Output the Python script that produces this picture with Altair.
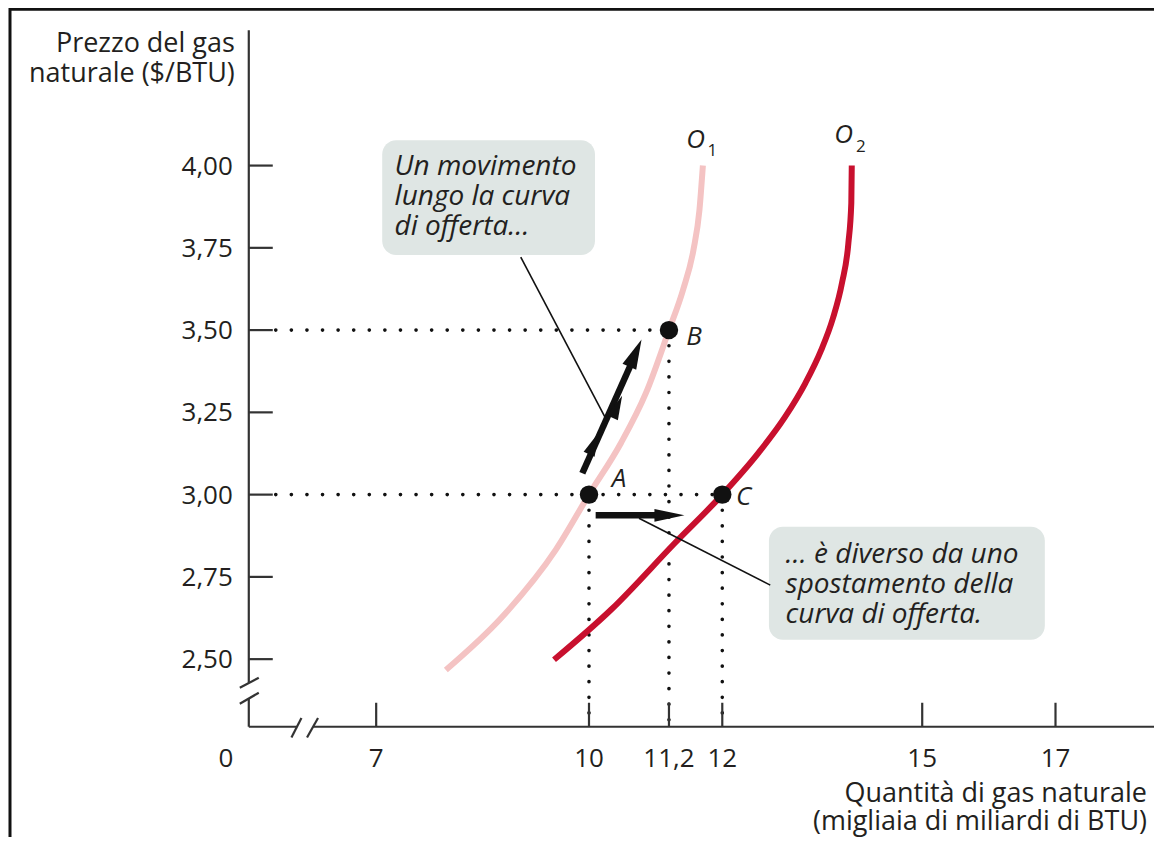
import altair as alt
import pandas as pd

FONT = "Open Sans"
INK = "#231f20"
AXIS = "#333333"
PINK = "#f4c3c3"
RED = "#c8102e"
BOX = "#dfe6e4"

# ---------------- data ----------------
# Supply curve O1 (quantity, price)
o1_q = [7.982, 8.775, 9.531, 10.0, 10.480, 10.855, 11.2, 11.409, 11.567, 11.657, 11.709]
o1_p = [2.467, 2.628, 2.832, 3.00, 3.157, 3.309, 3.50, 3.621, 3.743, 3.864, 4.00]
# Supply curve O2
o2_q = [9.507, 10.33, 11.289, 12.0, 12.540, 12.942, 13.247, 13.484, 13.660, 13.796, 13.892, 13.936, 13.943]
o2_p = [2.498, 2.650, 2.853, 3.00, 3.126, 3.236, 3.339, 3.439, 3.536, 3.643, 3.764, 3.886, 4.00]

point_names = ["A", "B", "C"]
point_q = [10.0, 11.2, 12.0]
point_p = [3.00, 3.50, 3.00]

x_tick_values = [7, 10, 11.2, 12, 15, 17]
x_tick_labels = ["7", "10", "11,2", "12", "15", "17"]
y_tick_values = [2.50, 2.75, 3.00, 3.25, 3.50, 3.75, 4.00]
y_tick_labels = ["2,50", "2,75", "3,00", "3,25", "3,50", "3,75", "4,00"]

# dotted guide segments (from -> to)
guide_q = [1.48, 1.48, 10.0, 11.2, 12.0]
guide_p = [3.50, 3.00, 3.00, 3.50, 3.00]
guide_q2 = [11.2, 12.0, 10.0, 11.2, 12.0]
guide_p2 = [3.50, 3.00, 2.31, 2.31, 2.31]

# annotation boxes
box_q = [7.085, 12.70]
box_q2 = [10.09, 16.84]
box_p = [4.077, 2.902]
box_p2 = [3.728, 2.559]
box_text_q = [7.26, 12.95]
box_text_p = [3.970, 2.792]
box_texts = ["Un movimento\nlungo la curva\ndi offerta\u2026",
             "\u2026 \u00e8 diverso da uno\nspostamento della\ncurva di offerta."]

# leader lines
leader_q = [9.038, 10.75]
leader_p = [3.722, 2.928]
leader_q2 = [10.25, 12.72]
leader_p2 = [3.232, 2.725]

# arrows: shafts
shaft_q = [9.906, 10.10]
shaft_p = [3.065, 2.937]
shaft_q2 = [10.66, 11.10]
shaft_p2 = [3.41, 2.937]
# arrow heads
head_q = [10.697, 10.424, 10.075]
head_p = [3.430, 3.267, 3.156]
head_size = [900, 576, 576]
hhead_q = [11.207]
hhead_p = [2.937]

# letter labels
lab_text = ["A", "B", "C", "O", "O"]
lab_q = [10.45, 11.575, 12.32, 11.60, 13.82]
lab_p = [3.047, 3.479, 2.993, 4.077, 4.092]
sub_text = ["1", "2"]
sub_q = [11.85, 14.08]
sub_p = [4.044, 4.056]

# ---------------- scales ----------------
W, H = 906, 692
xscale = alt.Scale(domain=[0, 7, 10, 18.478], range=[0, 127.5, 340.5, 906], zero=False, nice=False)
yscale = alt.Scale(domain=[2.2946, 4.3958], zero=False, nice=False)


def X(f):
    return alt.X(f, type="quantitative", scale=xscale, axis=None)


def Y(f):
    return alt.Y(f, type="quantitative", scale=yscale, axis=None)


def X2(f):
    return alt.X2(f)


def Y2(f):
    return alt.Y2(f)


one = pd.DataFrame({"k": [0]})

curves = pd.DataFrame({
    "q": o1_q + o2_q,
    "p": o1_p + o2_p,
    "curve": ["O1"] * len(o1_q) + ["O2"] * len(o2_q),
})
points = pd.DataFrame({"name": point_names, "q": point_q, "p": point_p})
guides = pd.DataFrame({"q": guide_q, "p": guide_p, "q2": guide_q2, "p2": guide_p2})
boxes = pd.DataFrame({"q": box_q, "q2": box_q2, "p": box_p, "p2": box_p2})
boxtext = pd.DataFrame({"q": box_text_q, "p": box_text_p, "t": box_texts})
leaders = pd.DataFrame({"q": leader_q, "p": leader_p, "q2": leader_q2, "p2": leader_p2})
shafts = pd.DataFrame({"q": shaft_q, "p": shaft_p, "q2": shaft_q2, "p2": shaft_p2})
heads = pd.DataFrame({"q": head_q, "p": head_p, "s": head_size})
hheads = pd.DataFrame({"q": hhead_q, "p": hhead_p})
labels = pd.DataFrame({"t": lab_text, "q": lab_q, "p": lab_p})
subs = pd.DataFrame({"t": sub_text, "q": sub_q, "p": sub_p})
xticks = pd.DataFrame({"q": x_tick_values, "label": x_tick_labels})
yticks = pd.DataFrame({"p": y_tick_values, "label": y_tick_labels})

# axis lines with breaks (pixel geometry of the frame decoration)
seg = pd.DataFrame({
    "x": [0, 0, 0, 64.4, -9, -9, 42.7, 58.3],
    "y": [-5, 664, H, H, 653, 669, 702.7, 702.7],
    "x2": [0, 0, 48.2, W, 10, 10, 52.7, 69.3],
    "y2": [648, H, H, H, 643, 658, 683.3, 683.3],
})

layers = []

# frame
layers.append(alt.Chart(one).mark_rect(fill=None, stroke="#111111", strokeWidth=3).encode(
    x=alt.value(-239), x2=alt.value(1100), y=alt.value(-26), y2=alt.value(1000)))

# annotation boxes
layers.append(alt.Chart(boxes).mark_rect(cornerRadius=14, color=BOX).encode(
    x=X("q"), x2=X2("q2"), y=Y("p"), y2=Y2("p2")))

# dotted guides
layers.append(alt.Chart(guides).mark_rule(strokeDash=[0.1, 15.5], strokeCap="round", strokeWidth=3.6,
                                          color="#111111").encode(
    x=X("q"), x2=X2("q2"), y=Y("p"), y2=Y2("p2")))

# curves
layers.append(alt.Chart(curves).mark_line(strokeWidth=6, interpolate="monotone").encode(
    x=X("q"), y=Y("p"),
    color=alt.Color("curve:N", scale=alt.Scale(domain=["O1", "O2"], range=[PINK, RED]), legend=None),
    detail="curve:N"))

# leader lines
layers.append(alt.Chart(leaders).mark_rule(strokeWidth=1.6, color="#111111").encode(
    x=X("q"), x2=X2("q2"), y=Y("p"), y2=Y2("p2")))

# arrows
layers.append(alt.Chart(shafts).mark_rule(strokeWidth=6.5, color="#111111").encode(
    x=X("q"), x2=X2("q2"), y=Y("p"), y2=Y2("p2")))
layers.append(alt.Chart(heads).mark_point(shape="M0,-1L0.5,1L-0.5,1Z", filled=True, opacity=1,
                                          color="#111111", angle=24).encode(
    x=X("q"), y=Y("p"), size=alt.Size("s:Q", scale=None, legend=None)))
layers.append(alt.Chart(hheads).mark_point(shape="M1,0L-1,0.42L-1,-0.42Z", filled=True, opacity=1,
                                           color="#111111", size=900).encode(
    x=X("q"), y=Y("p")))

# points
layers.append(alt.Chart(points).mark_circle(size=340, color="#111111", opacity=1).encode(
    x=X("q"), y=Y("p")))

# letter labels
layers.append(alt.Chart(labels).mark_text(font=FONT, fontSize=26, fontStyle="italic", color=INK,
                                          align="center", baseline="middle").encode(
    x=X("q"), y=Y("p"), text="t:N"))
layers.append(alt.Chart(subs).mark_text(font=FONT, fontSize=17, color=INK,
                                        align="center", baseline="middle").encode(
    x=X("q"), y=Y("p"), text="t:N"))

# box texts
layers.append(alt.Chart(boxtext).mark_text(font=FONT, fontSize=28, fontStyle="italic", color=INK,
                                           align="left", baseline="alphabetic", lineBreak="\n",
                                           lineHeight=30).encode(
    x=X("q"), y=Y("p"), text="t:N"))

# axis lines
layers.append(alt.Chart(seg).mark_rule(strokeWidth=2.2, color=AXIS).encode(
    x=alt.X("x:Q", scale=None, axis=None), x2="x2:Q",
    y=alt.Y("y:Q", scale=None, axis=None), y2="y2:Q"))

# ticks
layers.append(alt.Chart(yticks).mark_rule(strokeWidth=2.2, color=AXIS).encode(
    x=alt.value(0), x2=alt.value(24), y=Y("p")))
layers.append(alt.Chart(xticks).mark_rule(strokeWidth=2.2, color=AXIS).encode(
    x=X("q"), y=alt.value(H), y2=alt.value(H - 24)))

# tick labels
layers.append(alt.Chart(yticks).mark_text(font=FONT, fontSize=26, color=INK, align="right",
                                          baseline="alphabetic", dy=9).encode(
    x=alt.value(-16), y=Y("p"), text="label:N"))
layers.append(alt.Chart(xticks).mark_text(font=FONT, fontSize=26, color=INK, align="center",
                                          baseline="alphabetic").encode(
    x=X("q"), y=alt.value(732), text="label:N"))
layers.append(alt.Chart(one).mark_text(font=FONT, fontSize=26, color=INK, align="center",
                                       baseline="alphabetic", text="0").encode(
    x=alt.value(-23), y=alt.value(732)))

# axis titles
layers.append(alt.Chart(one).mark_text(font=FONT, fontSize=27, color=INK, align="right",
                                       baseline="alphabetic", lineBreak="\n", lineHeight=30,
                                       text="Prezzo del gas\nnaturale ($/BTU)").encode(
    x=alt.value(-14), y=alt.value(17)))
layers.append(alt.Chart(one).mark_text(font=FONT, fontSize=27, color=INK, align="right",
                                       baseline="alphabetic", lineBreak="\n", lineHeight=28,
                                       text="Quantit\u00e0 di gas naturale\n(migliaia di miliardi di BTU)").encode(
    x=alt.value(899), y=alt.value(767)))

chart = alt.layer(*layers).properties(
    width=W, height=H,
    padding={"left": 241, "top": 27, "right": 0, "bottom": 110},
    autosize=alt.AutoSizeParams(type="none"),
).configure_view(stroke=None)

chart.save("out.html", embed_options={"renderer": "svg", "actions": False})
